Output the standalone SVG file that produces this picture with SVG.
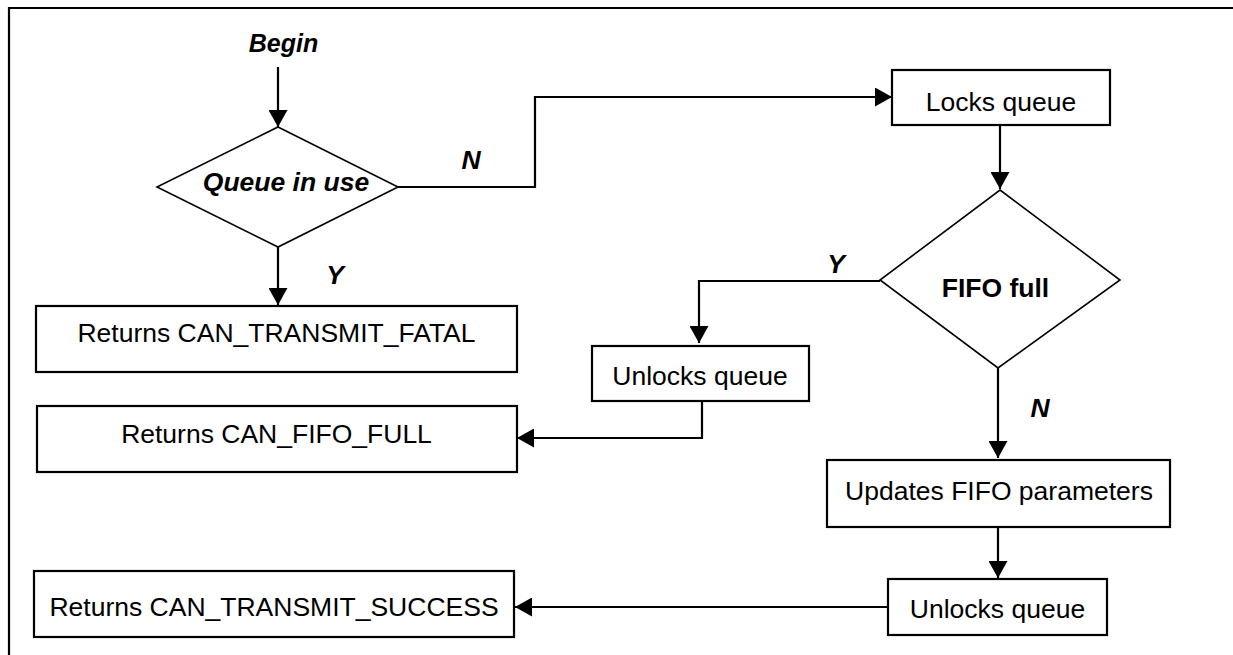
<svg xmlns="http://www.w3.org/2000/svg" width="1233" height="655" viewBox="0 0 1233 655">
<style>
.box{fill:#fff;stroke:#000;stroke-width:2.2}
.dia{fill:#fff;stroke:#000;stroke-width:1.6}
.t{font-family:"Liberation Sans",Arial,sans-serif;font-size:26.5px;fill:#000;text-anchor:middle}
.b{font-weight:bold}
.i{font-style:italic}
.c{fill:none;stroke:#000;stroke-width:2.2}
</style>
<defs>
<marker id="ah" markerUnits="userSpaceOnUse" markerWidth="17" markerHeight="19" viewBox="0 0 17 19" refX="17" refY="9.5" orient="auto">
<path d="M0,0 L17,9.5 L0,19 z" fill="#000"/>
</marker>
</defs>
<rect width="1233" height="655" fill="#fff"/>
<path d="M9,655 V8 H1233" fill="none" stroke="#000" stroke-width="2.2"/>
<g id="begin"><text class="t b i" x="283.5" y="52" style="font-size:25px">Begin</text></g>
<g id="queue-in-use"><polygon class="dia" points="278,127 398,187 278,247 157,187"/><text class="t b i" x="286" y="191">Queue in use</text></g>
<g id="locks-queue"><rect class="box" x="892" y="70" width="218" height="55"/><text class="t" x="1001" y="111">Locks queue</text></g>
<g id="fifo-full"><polygon class="dia" points="1000,190 1120,280 998,368 880,280"/><text class="t b" x="995.5" y="297">FIFO full</text></g>
<g id="ret-fatal"><rect class="box" x="36" y="306" width="481" height="66"/><text class="t" x="276.5" y="342">Returns CAN_TRANSMIT_FATAL</text></g>
<g id="unlocks-1"><rect class="box" x="592" y="346" width="217" height="55"/><text class="t" x="700" y="385">Unlocks queue</text></g>
<g id="ret-fifo-full"><rect class="box" x="37" y="406" width="480" height="66"/><text class="t" x="276.5" y="443">Returns CAN_FIFO_FULL</text></g>
<g id="updates"><rect class="box" x="827" y="460" width="343" height="67"/><text class="t" x="999" y="500">Updates FIFO parameters</text></g>
<g id="unlocks-2"><rect class="box" x="888" y="579" width="219" height="56"/><text class="t" x="997.5" y="618">Unlocks queue</text></g>
<g id="ret-success"><rect class="box" x="34" y="571" width="480" height="66"/><text class="t" x="274" y="616">Returns CAN_TRANSMIT_SUCCESS</text></g>
<g id="connectors">
<path class="c" d="M278,67 V127" marker-end="url(#ah)"/>
<path class="c" d="M398,187 H535 V97 H892" marker-end="url(#ah)"/>
<path class="c" d="M1000,125 V189" marker-end="url(#ah)"/>
<path class="c" d="M278,247 V305" marker-end="url(#ah)"/>
<path class="c" d="M880,281 H699 V343" marker-end="url(#ah)"/>
<path class="c" d="M702,401 V438 H517" marker-end="url(#ah)"/>
<path class="c" d="M998,368 V458" marker-end="url(#ah)"/>
<path class="c" d="M998,527 V578" marker-end="url(#ah)"/>
<path class="c" d="M888,607 H515" marker-end="url(#ah)"/>
<text class="t b i" x="471" y="169">N</text>
<text class="t b i" x="335" y="284">Y</text>
<text class="t b i" x="836" y="273">Y</text>
<text class="t b i" x="1040" y="417">N</text>
</g>
</svg>
